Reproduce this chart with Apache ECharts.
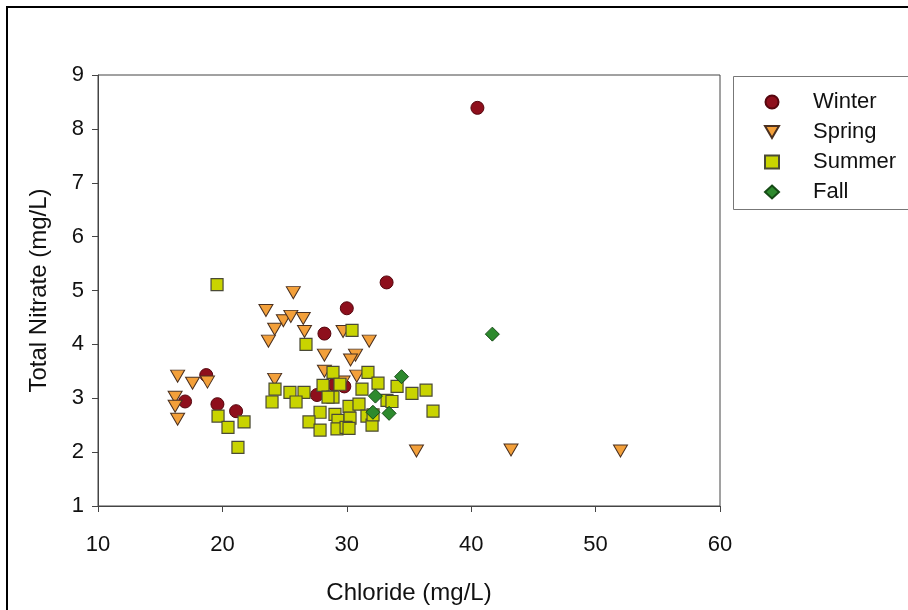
<!DOCTYPE html>
<html>
<head>
<meta charset="utf-8">
<script src="https://cdn.jsdelivr.net/npm/echarts@6/dist/echarts.min.js"></script>
<style>
html,body{margin:0;padding:0;background:#fff;}
#c{width:908px;height:610px;}
</style>
</head>
<body>
<div id="c"></div>
<script>
// Data (Chloride mg/L, Total Nitrate mg/L)
var seriesNames = ['Winter', 'Spring', 'Summer', 'Fall'];
var winter = [[17.0,2.94],[18.7,3.43],[19.6,2.89],[21.1,2.76],[27.6,3.06],[28.2,4.20],[30.0,4.67],[33.2,5.15],[40.5,8.39],[29.8,3.22],[29.0,3.25]];
var spring = [[16.4,3.41],[17.6,3.28],[18.8,3.30],[16.2,3.02],[16.2,2.85],[16.4,2.61],[25.7,4.96],[23.5,4.63],[24.9,4.44],[25.5,4.52],[26.5,4.48],[24.2,4.28],[23.7,4.06],[26.6,4.24],[28.2,3.80],[29.7,4.24],[31.8,4.06],[30.7,3.80],[30.3,3.71],[24.2,3.35],[28.2,3.50],[29.7,3.30],[30.8,3.41],[35.6,2.02],[43.2,2.04],[52.0,2.02]];
var summer = [[19.57,5.11],[19.65,2.67],[20.45,2.46],[21.74,2.56],[21.25,2.09],[26.72,4.00],[30.42,4.26],[24.23,3.17],[25.43,3.11],[26.56,3.11],[23.99,2.93],[25.92,2.93],[27.85,2.74],[26.96,2.56],[27.85,2.41],[28.09,3.24],[28.89,3.48],[31.70,3.48],[29.45,3.26],[31.22,3.17],[32.51,3.28],[34.04,3.22],[35.24,3.09],[36.37,3.15],[28.89,3.02],[30.18,2.85],[30.98,2.89],[33.23,2.96],[29.05,2.70],[29.29,2.59],[30.26,2.63],[31.62,2.67],[29.21,2.43],[29.94,2.46],[32.03,2.50],[33.63,2.94],[36.93,2.76],[30.18,2.44],[32.11,2.69],[28.49,3.02]];
var fall = [[34.4,3.40],[32.3,3.04],[32.1,2.74],[33.4,2.72],[41.7,4.19]];
var xTicks = [10,20,30,40,50,60];
var yTicks = [1,2,3,4,5,6,7,8,9];

var font = '"Liberation Sans", Arial, sans-serif';
var downTri = 'path://M0,0L14,0L7,12Z';
var chart = echarts.init(document.getElementById('c'), null, {renderer:'canvas'});
chart.setOption({
  animation: false,
  backgroundColor: '#fff',
  textStyle: {fontFamily: font},
  grid: {left: 98, right: 188, top: 75, bottom: 103, show: true, borderColor: '#444', borderWidth: 1, backgroundColor: 'transparent'},
  xAxis: {
    type: 'value', min: xTicks[0], max: xTicks[xTicks.length-1], interval: 10,
    name: 'Chloride (mg/L)', nameLocation: 'middle', nameGap: 75,
    nameTextStyle: {fontSize: 24, color: '#111', fontFamily: font},
    axisLine: {show: true, lineStyle: {color: '#444', width: 1}},
    axisTick: {show: true, inside: false, length: 6, lineStyle: {color: '#444'}},
    axisLabel: {fontSize: 22, color: '#111', margin: 28, fontFamily: font},
    splitLine: {show: false}
  },
  yAxis: {
    type: 'value', min: yTicks[0], max: yTicks[yTicks.length-1], interval: 1,
    name: 'Total Nitrate (mg/L)', nameLocation: 'middle', nameGap: 47, nameRotate: 90,
    nameTextStyle: {fontSize: 24, color: '#111', fontFamily: font},
    axisLine: {show: true, lineStyle: {color: '#444', width: 1}},
    axisTick: {show: true, inside: false, length: 6, lineStyle: {color: '#444'}},
    axisLabel: {fontSize: 22, color: '#111', margin: 14, fontFamily: font},
    splitLine: {show: false}
  },
  legend: {
    orient: 'vertical', left: 764, top: 91, padding: 0,
    itemWidth: 14, itemHeight: 13, itemGap: 8,
    textStyle: {fontSize: 22, color: '#111', fontFamily: font, padding: [0,0,0,29]},
    data: [
      {name: seriesNames[0], icon: 'circle'},
      {name: seriesNames[1], icon: downTri},
      {name: seriesNames[2], icon: 'rect'},
      {name: seriesNames[3], icon: 'diamond'}
    ]
  },
  graphic: [
    {type: 'rect', shape: {x: 7, y: 7, width: 1000, height: 700}, style: {fill: 'none', stroke: '#000', lineWidth: 2}, silent: true, z: 100},
    {type: 'rect', shape: {x: 733.5, y: 76.5, width: 300, height: 133}, style: {fill: 'none', stroke: '#777', lineWidth: 1}, silent: true, z: 100}
  ],
  series: [
    {name: seriesNames[0], type: 'scatter', data: winter, symbol: 'circle', symbolSize: 13,
     itemStyle: {color: '#8e0f1c', borderColor: '#55060e', borderWidth: 1, opacity: 1}},
    {name: seriesNames[1], type: 'scatter', data: spring, symbol: downTri, symbolSize: [14,12],
     itemStyle: {color: '#f3a03a', borderColor: '#4a3020', borderWidth: 1, opacity: 1}},
    {name: seriesNames[2], type: 'scatter', data: summer, symbol: 'rect', symbolSize: 12,
     itemStyle: {color: '#c9d400', borderColor: '#4a4a35', borderWidth: 1.2, opacity: 1}},
    {name: seriesNames[3], type: 'scatter', data: fall, symbol: 'diamond', symbolSize: 14,
     itemStyle: {color: '#2d8a2d', borderColor: '#154a15', borderWidth: 1, opacity: 1}}
  ]
});
</script>
</body>
</html>
